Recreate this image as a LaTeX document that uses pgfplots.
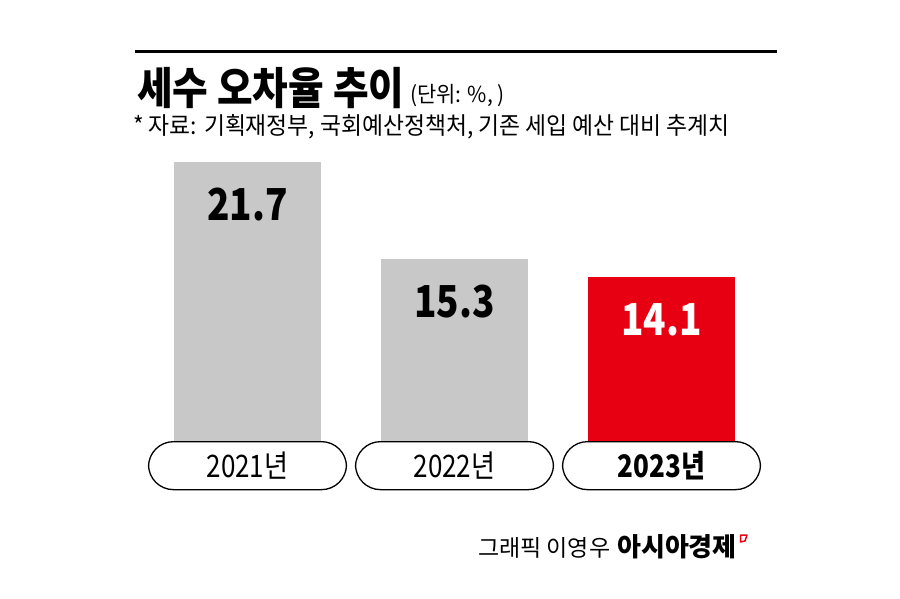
\documentclass[border=0pt]{standalone}
\usepackage{pgfplots}
\pgfplotsset{compat=1.18}
\usepackage{fontspec}
\setmainfont{Noto Sans CJK KR}
\newfontfamily\kr[FakeStretch=0.88]{Noto Sans CJK KR}
\newfontfamily\krs[FakeStretch=0.95]{Noto Sans CJK KR}
\newfontfamily\krn[FakeStretch=0.84]{Noto Sans CJK KR}
\definecolor{barg}{HTML}{C8C8C8}
\definecolor{barr}{HTML}{E60012}
\begin{document}
\begin{tikzpicture}
  \fill[white] (0pt,0pt) rectangle (900pt,598pt);
  \draw[line width=3pt] (135pt,546pt) -- (777pt,546pt);
  \node[anchor=base west, inner sep=0, font=\kr\bfseries\fontsize{44}{44}\selectfont] at (137pt,493pt) {세수 오차율 추이};
  \node[anchor=base west, inner sep=0, font=\krs\fontsize{22}{22}\selectfont] at (410pt,495pt) {(단위: \%, )};
  \node[anchor=base west, inner sep=0, font=\krs\fontsize{24}{24}\selectfont] at (133pt,463pt)
    {* 자료: 기획재정부, 국회예산정책처, 기존 세입 예산 대비 추계치};
  \begin{axis}[
    at={(144pt,157pt)}, anchor=south west,
    width=621pt, height=279pt,
    scale only axis,
    xmin=-0.5, xmax=2.5,
    ymin=3.2, ymax=21.7,
    axis line style={draw=none},
    ytick=\empty,
    xtick={0,1,2},
    xticklabels={2021년,2022년,{\bfseries 2023년}},
    major tick length=0pt,
    xticklabel style={font=\krn\fontsize{31}{31}\selectfont, draw, line width=1.3pt,
      rounded corners=25pt, minimum width=198pt, minimum height=48pt,
      inner sep=0pt, anchor=north},
    /pgf/number format/assume math mode=true,
    /pgf/number format/.cd, fixed, fixed zerofill, precision=1, /pgfplots/.cd,
    every node near coord/.append style={anchor=center, yshift=-43pt,
      font=\krn\bfseries\fontsize{44}{44}\selectfont},
  ]
    \addplot[ybar, bar width=147pt, bar shift=0pt, fill=barg, draw=none,
      nodes near coords] coordinates {(0,21.7)};
    \addplot[ybar, bar width=147pt, bar shift=0pt, fill=barg, draw=none,
      nodes near coords] coordinates {(1,15.3)};
    \addplot[ybar, bar width=147pt, bar shift=0pt, fill=barr, draw=none,
      nodes near coords, every node near coord/.append style={text=white}] coordinates {(2,14.1)};
  \end{axis}
  \node[anchor=base west, inner sep=0, font=\fontsize{23}{23}\selectfont] at (478pt,42pt) {그래픽 이영우};
  \node[anchor=base west, inner sep=0, font=\bfseries\fontsize{26}{26}\selectfont] at (617pt,42pt) {아시아경제};
  \draw[barr, line width=1.5pt, line join=round] (740.5pt,63pt) -- (747pt,63pt) -- (745pt,57pt) -- (740.5pt,56pt) -- cycle;
\end{tikzpicture}
\end{document}
